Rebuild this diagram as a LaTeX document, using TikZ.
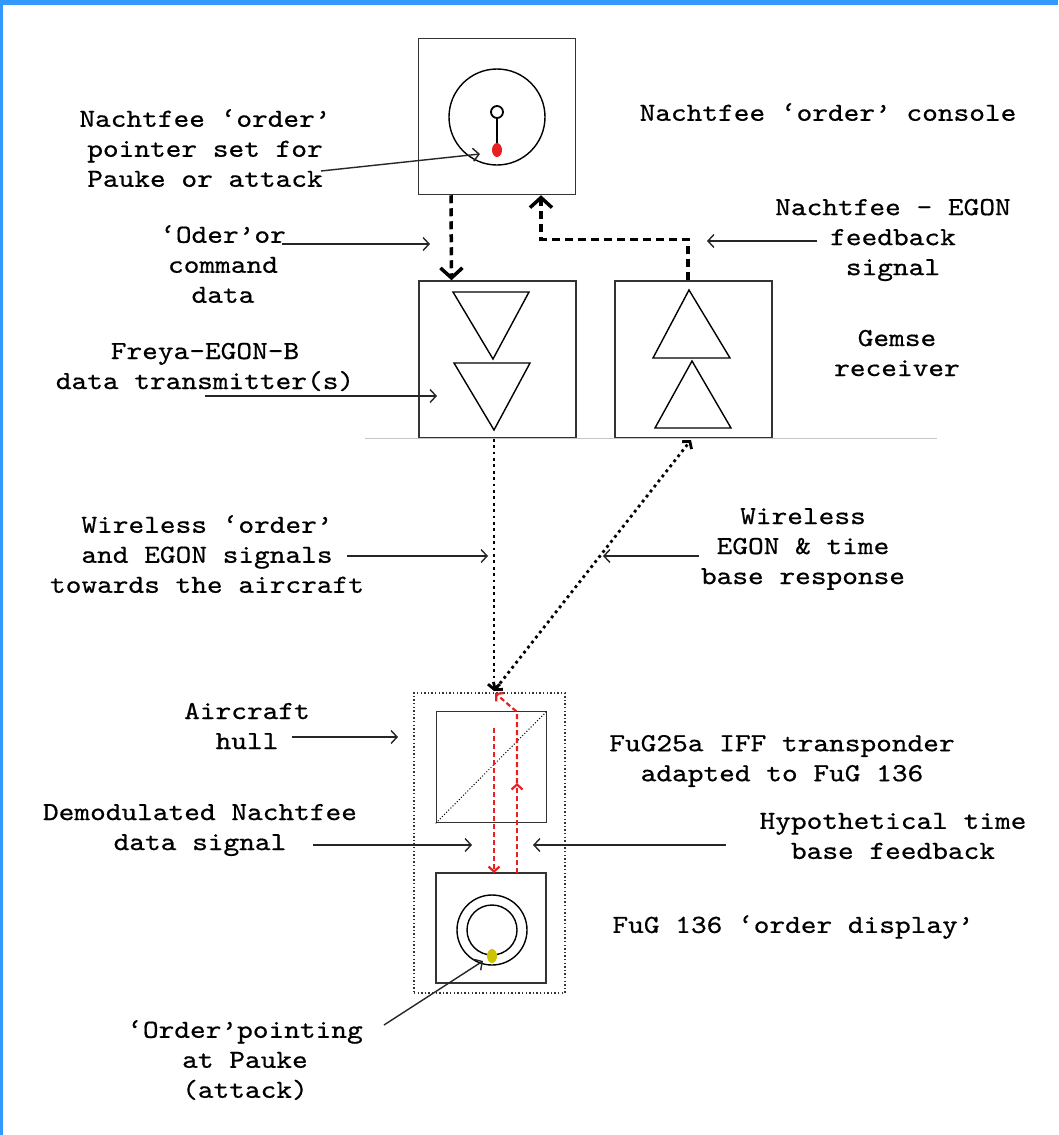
\documentclass[tikz,border=0pt]{standalone}
\usepackage{fontspec}
\newfontfamily\courfont{lmmono10-regular.otf}[FakeStretch=1.15, FakeBold=0.6]
\usetikzlibrary{arrows.meta}
\definecolor{frameblue}{RGB}{51,153,255}
\definecolor{sigred}{RGB}{232,32,32}
\definecolor{dotyellow}{RGB}{205,195,0}

\begin{document}
\begin{tikzpicture}[x=1pt, y=-1pt, >={Straight Barb[length=6pt,width=13pt]},
    unitbox/.style={rectangle, draw=black!80, line width=1.5pt, inner sep=0pt},
    note/.style={align=center, font=\courfont\fontsize{26}{30}\selectfont, inner sep=0pt},
    pointer/.style={->, line width=1.4pt, black!85},
    cmdline/.style={line width=3.5pt, dash pattern=on 8pt off 5pt, -{Straight Barb[length=10pt,width=22pt]}},
    radio/.style={line width=2.8pt, dash pattern=on 2.8pt off 3.6pt},
    redline/.style={sigred, line width=2.2pt, dash pattern=on 5pt off 3pt, -{Straight Barb[length=5pt,width=11pt]}}]
  \useasboundingbox (0,0) rectangle (1058,1135);
  \fill[frameblue] (0,0) rectangle (1058,5);
  \fill[frameblue] (0,0) rectangle (3,1135);

  % ground stations
  \node[unitbox, minimum width=157pt, minimum height=156pt] (console) at (497,116.5) {};
  \node[unitbox, minimum width=157pt, minimum height=157pt] (tx) at (497.5,359.5) {};
  \node[unitbox, minimum width=157pt, minimum height=157pt] (rx) at (693.5,359.5) {};
  \draw[gray!45, line width=1pt] (365,438) -- (937,438);

  % order dial
  \draw[line width=1.4pt] (497,117) circle (48);
  \draw[line width=2pt] (497,118) -- (497,146);
  \draw[line width=1.8pt, fill=white] (497,112) circle (6);
  \fill[sigred] (497,150) ellipse (5 and 7);

  % transmitter and receiver stages
  \draw[line width=1.4pt] (453,292) -- (529,292) -- (493,359) -- cycle;
  \draw[line width=1.4pt] (454,363) -- (530,363) -- (494,430) -- cycle;
  \draw[line width=1.4pt] (689,290) -- (730,358) -- (653,358) -- cycle;
  \draw[line width=1.4pt] (692,361) -- (731,428) -- (655,428) -- cycle;

  % command and feedback lines
  \draw[cmdline] ([xshift=-46pt]console.south) -- ([xshift=-46pt]tx.north);
  \draw[cmdline] ([xshift=-5.5pt]rx.north) -- ++(0,-41) -| ([xshift=44pt]console.south);

  % aircraft
  \node[rectangle, draw=black!80, line width=1.4pt, dash pattern=on 1.4pt off 2.2pt,
        minimum width=151pt, minimum height=300pt, inner sep=0pt] (hull) at (489.5,843) {};
  \node[unitbox, minimum width=110pt, minimum height=111pt] (iff) at (491.5,767) {};
  \node[unitbox, minimum width=110pt, minimum height=110pt] (disp) at (491,928) {};
  \draw[line width=1pt, dash pattern=on 1pt off 2pt] (iff.south west) -- (iff.north east);
  \draw[line width=1.4pt] (492,930) circle (35);
  \draw[line width=1.4pt] (492,930) circle (25);
  \fill[dotyellow] (492,956) ellipse (5 and 7);

  % radio paths
  \coordinate (skytop) at (494,691);
  \coordinate (rxin) at (691,440);
  \draw[radio, -{Straight Barb[length=5pt,width=12pt]}] ([xshift=-3.5pt]tx.south) -- (skytop);
  \draw[radio, {Straight Barb[length=5pt,width=12pt]}-{Straight Barb[length=5pt,width=12pt]}] (skytop) -- (rxin);

  % signals inside the aircraft
  \coordinate (midup) at (517,783);
  \draw[redline] (494,728) -- (494,873);
  \draw[redline] (517,873) -- (midup);
  \draw[redline] (midup) -- (517,712) -- (495,693);

  % labels
  \node[note] (dialnote) at (205,148) {Nachtfee ‘order’\\pointer set for\\Pauke or attack};
  \node[note] (ordernote) at (223,264) {‘Oder’or\\command\\data};
  \node[note] (consolenote) at (828,112) {Nachtfee ‘order’ console};
  \node[note] (feedbacknote) at (893,240) {Nachtfee - EGON\\feedback\\signal};
  \node[note] (gemsenote) at (897,353) {Gemse\\receiver};
  \node[note] (freyanote) at (205,367) {Freya-EGON-B\\data transmitter(s)};
  \node[note] (sendnote) at (207,554) {Wireless ‘order’\\and EGON signals\\towards the aircraft};
  \node[note] (replynote) at (803,549) {Wireless\\EGON \& time\\base response};
  \node[note] (hullnote) at (247,726) {Aircraft\\hull};
  \node[note] (iffnote) at (782,761) {FuG25a IFF transponder\\adapted to FuG 136};
  \node[note] (demodnote) at (200,830) {Demodulated Nachtfee\\data signal};
  \node[note] (hyponote) at (893,836) {Hypothetical time\\base feedback};
  \node[note] (dispnote) at (793,927) {FuG 136 ‘order display’};
  \node[note] (pointnote) at (245,1060) {‘Order’pointing\\at Pauke\\(attack)};

  % pointers
  \draw[pointer] (321,171) -- (480,154);
  \draw[pointer] (282,244) -- (430,244);
  \draw[pointer] (817,241) -- (707,241);
  \draw[pointer] (205,396) -- (437,396);
  \draw[pointer] (347,556) -- (488,556);
  \draw[pointer] (699,556) -- (603,556);
  \draw[pointer] (292,737) -- (398,737);
  \draw[pointer] (313,845) -- (472,845);
  \draw[pointer] (726,845) -- (533,845);
  \draw[pointer] (384,1025) -- (483,961);
\end{tikzpicture}
\end{document}
